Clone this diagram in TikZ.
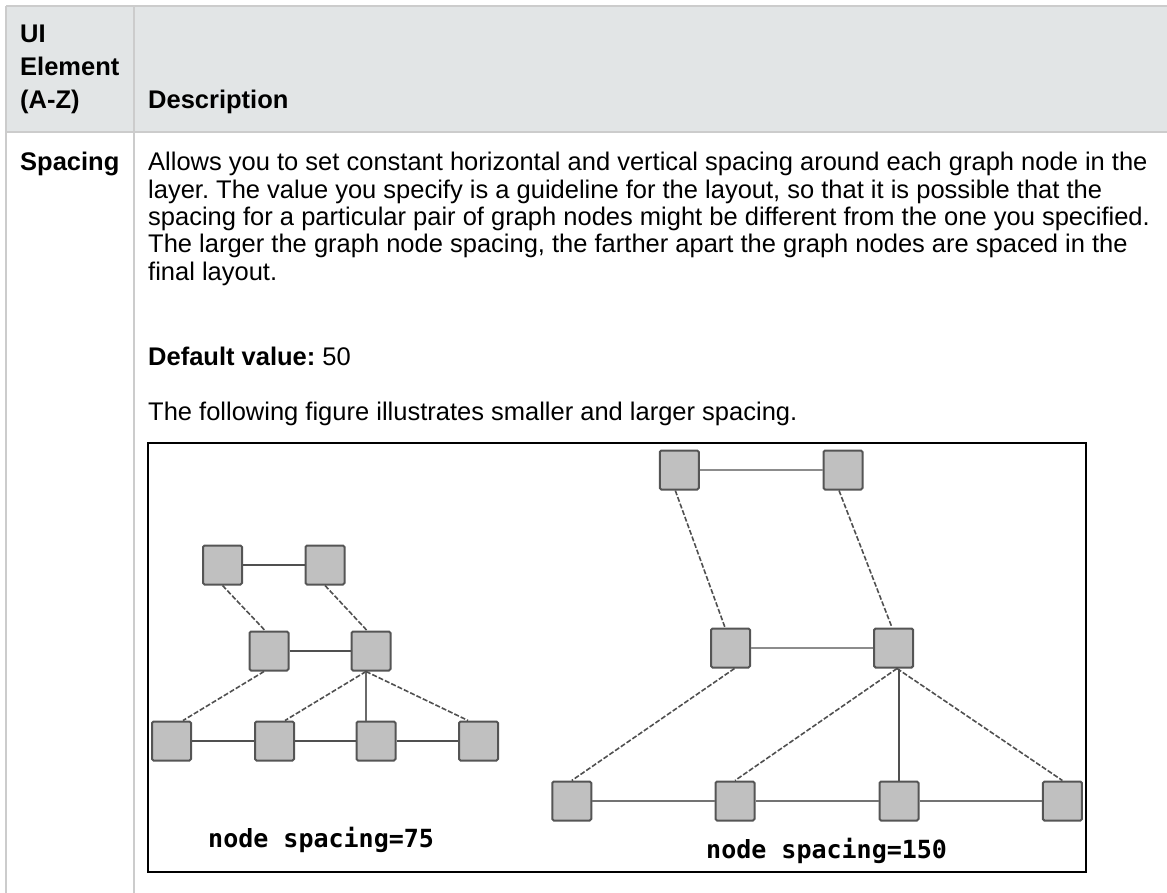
\documentclass[tikz,border=0pt]{standalone}
\usepackage{fontspec}
\setmainfont{Liberation Sans}
\newfontfamily\monofnt{DejaVu Sans Mono}
\frenchspacing
\definecolor{hdrfill}{RGB}{226,229,230}
\definecolor{rulegray}{RGB}{204,204,204}
\definecolor{nodefill}{RGB}{192,192,192}
\definecolor{nodeline}{RGB}{85,85,85}
\definecolor{edgedark}{RGB}{80,80,80}
\definecolor{edgelight}{RGB}{140,140,140}
\tikzset{
  txt/.style={anchor=base west, inner sep=0pt, font=\fontsize{25.5}{30}\selectfont},
  hd/.style={anchor=base west, inner sep=0pt, font=\fontsize{25.5}{30}\selectfont\bfseries},
  lbl/.style={anchor=base west, inner sep=0pt, font=\monofnt\bfseries\fontsize{25}{25}\selectfont},
  gnode/.style={draw=nodeline, line width=2pt, fill=nodefill, minimum size=39pt, inner sep=0pt, rounded corners=1.5pt},
  sedge/.style={draw=edgedark, line width=2pt},
  ledge/.style={draw=edgelight, line width=1.8pt},
  dedge/.style={draw=edgedark, line width=1.6pt, dash pattern=on 5pt off 2pt},
  rulel/.style={draw=rulegray, line width=2pt}
}
\begin{document}
\begin{tikzpicture}[x=1pt,y=-1pt]
\useasboundingbox (0,0) rectangle (1167,893);
% table frame
\fill[hdrfill] (6,6) rectangle (1167,132);
\draw[rulel] (6,6) -- (1167,6);
\draw[rulel] (6,132) -- (1167,132);
\draw[rulel] (6,6) -- (6,893);
\draw[rulel] (134,6) -- (134,893);
% header
\node[hd] (h1) at (20,43) {UI};
\node[hd] (h2) at (20,76) {Element};
\node[hd] (h3) at (20,109) {(A-Z)};
\node[hd] (h4) at (148,109) {Description};
% row
\node[hd] (sp) at (20,171) {Spacing};
\node[txt] (l1) at (148,171) {Allows you to set constant horizontal and vertical spacing around each graph node in the};
\node[txt] (l2) at (148,198.3) {layer. The value you specify is a guideline for the layout, so that it is possible that the};
\node[txt] (l3) at (148,225.6) {spacing for a particular pair of graph nodes might be different from the one you specified.};
\node[txt] (l4) at (148,253) {The larger the graph node spacing, the farther apart the graph nodes are spaced in the};
\node[txt] (l5) at (148,280.3) {final layout.};
\node[txt] (dv) at (148,365) {\textbf{Default value:} 50};
\node[txt] (fg) at (148,420) {The following figure illustrates smaller and larger spacing.};
% figure box
\draw[black, line width=2pt] (148,443) rectangle (1086,872);
% left graph nodes
\node[gnode] (a1) at (222.5,565) {};
\node[gnode] (a2) at (325,565) {};
\node[gnode] (am1) at (269,651) {};
\node[gnode] (am2) at (371,651) {};
\node[gnode] (ab1) at (171.5,741) {};
\node[gnode] (ab2) at (274.5,741) {};
\node[gnode] (ab3) at (376,741) {};
\node[gnode] (ab4) at (478.5,741) {};
% left graph edges
\draw[sedge] (a1.east) -- (a2.west);
\draw[sedge] (am1.east) -- (am2.west);
\draw[sedge] (ab1.east) -- (ab2.west);
\draw[sedge] (ab2.east) -- (ab3.west);
\draw[sedge] (ab3.east) -- (ab4.west);
\draw[dedge] (a1.south) -- ([xshift=-4pt]am1.north);
\draw[dedge] (a2.south) -- ([xshift=-4pt]am2.north);
\draw[dedge] ([xshift=-5pt]am1.south) -- ([xshift=11.5pt]ab1.north);
\draw[dedge] ([xshift=-5pt]am2.south) -- ([xshift=10.5pt]ab2.north);
\draw[ledge, draw=edgedark!85, line width=1.6pt] ([xshift=-5pt]am2.south) -- ([xshift=-10pt]ab3.north);
\draw[dedge] ([xshift=-5pt]am2.south) -- ([xshift=-10.5pt]ab4.north);
% right graph nodes
\node[gnode] (b1) at (679.3,470) {};
\node[gnode] (b2) at (843,470) {};
\node[gnode] (bm1) at (730.5,648) {};
\node[gnode] (bm2) at (893.6,648) {};
\node[gnode] (bb1) at (571.8,801) {};
\node[gnode] (bb2) at (735,801) {};
\node[gnode] (bb3) at (899,801) {};
\node[gnode] (bb4) at (1062.4,801) {};
% right graph edges
\draw[ledge] (b1.east) -- (b2.west);
\draw[ledge] (bm1.east) -- (bm2.west);
\draw[sedge, draw=edgedark!80] (bb1.east) -- (bb2.west);
\draw[sedge, draw=edgedark!80] (bb2.east) -- (bb3.west);
\draw[sedge, draw=edgedark!80] (bb3.east) -- (bb4.west);
\draw[dedge] ([xshift=-4pt]b1.south) -- ([xshift=-5.5pt]bm1.north);
\draw[dedge] ([xshift=-4pt]b2.south) -- ([xshift=-1.6pt]bm2.north);
\draw[dedge] ([xshift=4pt]bm1.south) -- (bb1.north);
\draw[dedge] ([xshift=3.4pt]bm2.south) -- (bb2.north);
\draw[sedge] ([xshift=5.4pt]bm2.south) -- (bb3.north);
\draw[dedge] ([xshift=3.4pt]bm2.south) -- (bb4.north);
% labels
\node[lbl] (lab1) at (208,847) {node spacing=75};
\node[lbl] (lab2) at (706,858) {node spacing=150};
\end{tikzpicture}
\end{document}
